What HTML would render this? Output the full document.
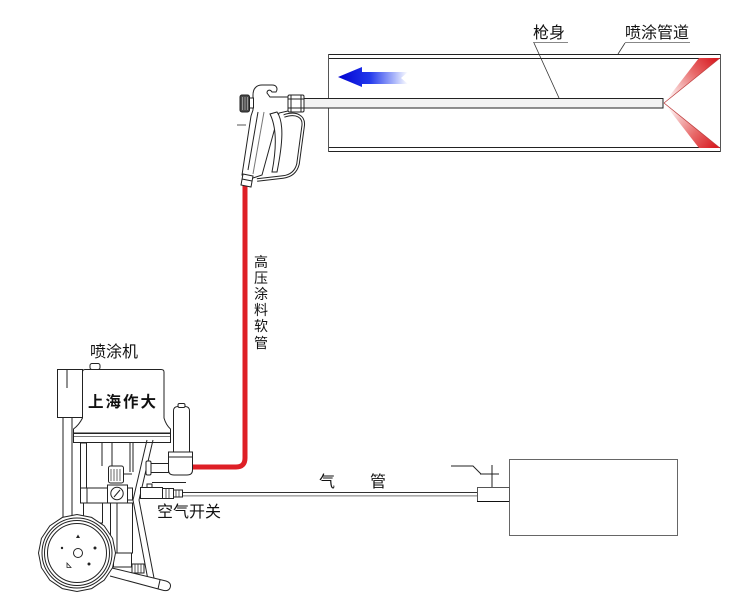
<!DOCTYPE html>
<html><head><meta charset="utf-8"><style>
html,body{margin:0;padding:0;background:#fff;}
svg{display:block;}
text{font-family:"Liberation Sans","Noto Sans CJK SC",sans-serif;fill:#111;}
</style></head><body>
<svg width="744" height="605" viewBox="0 0 744 605" xmlns="http://www.w3.org/2000/svg">
<defs>
<linearGradient id="blu" x1="338" y1="0" x2="408" y2="0" gradientUnits="userSpaceOnUse">
<stop offset="0" stop-color="#0000d0"/><stop offset="0.45" stop-color="#2238ec"/><stop offset="0.8" stop-color="#a8b4fa"/><stop offset="1" stop-color="#ffffff"/>
</linearGradient>
<linearGradient id="redU" x1="668" y1="100" x2="716" y2="60" gradientUnits="userSpaceOnUse">
<stop offset="0" stop-color="#ffffff"/><stop offset="0.6" stop-color="#e86a6a"/><stop offset="1" stop-color="#d81e24"/>
</linearGradient>
<linearGradient id="redD" x1="668" y1="106" x2="716" y2="146" gradientUnits="userSpaceOnUse">
<stop offset="0" stop-color="#ffffff"/><stop offset="0.6" stop-color="#e86a6a"/><stop offset="1" stop-color="#d81e24"/>
</linearGradient>
</defs>

<!-- Duct -->
<g stroke="#222" stroke-width="1" fill="none">
<line x1="328" y1="54.5" x2="720" y2="54.5"/>
<line x1="328" y1="58.5" x2="720" y2="58.5"/>
<line x1="328" y1="147.5" x2="720" y2="147.5"/>
<line x1="328" y1="151.5" x2="720" y2="151.5"/>
<line x1="328.5" y1="54" x2="328.5" y2="152" stroke="#555"/>
<line x1="720.5" y1="54" x2="720.5" y2="152" stroke="#555"/>
</g>
<!-- red cones -->
<polygon points="664,103 699,58 720,58" fill="url(#redU)"/>
<polygon points="664,103 699,148 720,148" fill="url(#redD)"/>
<line x1="664" y1="103" x2="720" y2="58" stroke="#c04040" stroke-width="0.8"/>
<line x1="664" y1="103" x2="720" y2="148" stroke="#c04040" stroke-width="0.8"/>
<!-- blue arrow -->
<polygon points="338,77 362,67 362,72 408,72 401,78 408,84 362,84 362,87" fill="url(#blu)"/>

<!-- labels top -->
<text x="533" y="38" font-size="16">枪身</text>
<text x="625" y="38" font-size="16">喷涂管道</text>
<g stroke="#888" stroke-width="1">
<line x1="533" y1="42.5" x2="568" y2="42.5"/>
<line x1="625" y1="42.5" x2="690" y2="42.5"/>
</g>
<g stroke="#333" stroke-width="0.8">
<line x1="534" y1="43" x2="559" y2="98"/>
<line x1="625" y1="43" x2="618" y2="54"/>
</g>

<!-- barrel -->
<rect x="304" y="98.5" width="359" height="9.5" fill="#f2f2f2" stroke="#222" stroke-width="1"/>

<!-- red hose -->
<path d="M245,184 L245,458 Q245,467 236,467 L190,467" fill="none" stroke="#de1f26" stroke-width="5"/>

<!-- spray gun -->
<g stroke="#222" stroke-width="1" fill="#fff">
<path d="M284,116 C296,112 305,116 303,127 L298,164 C296,172 291,176 283,177 L257,180" fill="none" stroke="#222" stroke-width="3.5"/>
<path d="M284,116 C296,112 305,116 303,127 L298,164 C296,172 291,176 283,177 L257,180" fill="none" stroke="#fff" stroke-width="1.5"/>
<path d="M253,95 C253,88 257,85 262,85 L272,85 C277,85 278,89 276,92 L272,92 C270,89 267,90 267,93 L270,97 L288,97 L288,111 L279,113 L262,175 L253,178 L242,175 L251,116 L253,110 Z"/>
<path d="M258,112 L248,170" fill="none"/>
<path d="M264,112 L253,174" fill="none" stroke="#777"/>
<path d="M277,112 C284,122 283,142 277,172 L272,172 C277,146 276,126 270,114 Z"/>
<rect x="240" y="95" width="9.5" height="17" rx="2" fill="#4a4a4a"/>
<g stroke="#aaa" stroke-width="0.8"><line x1="242.5" y1="97" x2="242.5" y2="110"/><line x1="245" y1="97" x2="245" y2="110"/><line x1="247.5" y1="97" x2="247.5" y2="110"/></g>
<rect x="249.5" y="98" width="4" height="10"/>
<rect x="288" y="95" width="16" height="17" rx="1.5"/>
<line x1="291" y1="95" x2="291" y2="112"/>
<line x1="301" y1="95" x2="301" y2="112"/>
<line x1="288" y1="99" x2="304" y2="99"/>
<line x1="288" y1="108" x2="304" y2="108"/>
<polygon points="243,174 253,176 251,187 241,185"/>
<line x1="242" y1="179" x2="252" y2="181"/>
<line x1="237" y1="125" x2="246" y2="125" stroke="#555"/>
</g>

<!-- hose label -->
<g font-size="14" text-anchor="middle">
<text x="261" y="267">高</text>
<text x="261" y="283">压</text>
<text x="261" y="299">涂</text>
<text x="261" y="315">料</text>
<text x="261" y="331">软</text>
<text x="261" y="348">管</text>
</g>

<!-- air line -->
<line x1="180" y1="492.5" x2="477" y2="492.5" stroke="#333" stroke-width="1"/>
<line x1="180" y1="495.8" x2="477" y2="495.8" stroke="#aaa" stroke-width="1.6"/>
<text x="319" y="487" font-size="16">气</text>
<text x="370" y="487" font-size="16">管</text>

<!-- box -->
<rect x="509.5" y="459.5" width="168" height="76" fill="#fff" stroke="#666" stroke-width="1"/>
<rect x="477.5" y="487.5" width="32" height="14" fill="#fff" stroke="#555" stroke-width="1"/>
<line x1="477" y1="501.5" x2="509" y2="501.5" stroke="#111"/>
<g stroke="#222" stroke-width="1" fill="none">
<polyline points="451,466 473,466 481,474"/>
<line x1="480" y1="474" x2="499" y2="474"/>
<line x1="492" y1="465" x2="492" y2="487"/>
</g>

<!-- machine -->
<text x="90" y="357" font-size="16">喷涂机</text>
<g stroke="#222" stroke-width="1" fill="#fff">
<rect x="63" y="406" width="9" height="115"/>
<line x1="63" y1="410" x2="72" y2="410"/>
<line x1="63" y1="414" x2="72" y2="414"/>
<rect x="57.5" y="369.5" width="25" height="48"/>
<line x1="67" y1="370" x2="67" y2="388"/>
<rect x="90" y="363.5" width="10" height="6" rx="2"/>
<path d="M82.5,418 L82.5,372 Q82.5,369.5 85,369.5 L161,369.5 Q164,369.5 164,372 L164,418 Q166,425 170.5,429 L170.5,433 L73.5,433 L73.5,429 Q79,425 82.5,418 Z"/>
<rect x="73.5" y="433.5" width="97" height="9"/>
<line x1="74" y1="436.5" x2="170" y2="436.5" stroke="#777"/>
<rect x="80.5" y="443" width="6" height="45"/>
<line x1="102" y1="443" x2="102" y2="466"/>
<line x1="112" y1="443" x2="112" y2="466"/>
<line x1="130" y1="443" x2="130" y2="472"/>
<line x1="133" y1="443" x2="133" y2="472"/>
<rect x="80.5" y="488" width="27" height="15"/>
<line x1="87" y1="488" x2="87" y2="503"/>
<rect x="83.5" y="503" width="19" height="20"/>
<rect x="108.5" y="466" width="15" height="17" rx="2"/>
<g stroke="#444" stroke-width="0.8"><line x1="111" y1="469" x2="111" y2="481"/><line x1="114" y1="469" x2="114" y2="481"/><line x1="117" y1="469" x2="117" y2="481"/><line x1="120" y1="469" x2="120" y2="481"/></g>
<line x1="124" y1="474" x2="132" y2="474"/>
<rect x="107.5" y="485" width="20" height="18"/>
<circle cx="117" cy="493.5" r="6.2"/>
<line x1="114" y1="497" x2="120" y2="490"/>
<rect x="127.5" y="488" width="5" height="12"/>
<rect x="110.5" y="503" width="22" height="50"/>
<line x1="117" y1="503" x2="117" y2="553"/>
<rect x="113.5" y="553" width="18" height="14"/>
<rect x="132" y="564" width="12" height="9"/>
<g stroke="#333" stroke-width="0.8"><line x1="135" y1="564" x2="135" y2="573"/><line x1="138" y1="564" x2="138" y2="573"/><line x1="141" y1="564" x2="141" y2="573"/></g>
<polyline points="147,440 133,500 148,580" fill="none"/>
<polyline points="153,440 139,500 154,578" fill="none"/>
<path d="M112,568 L166,581 Q172,583 170,588 Q168,592 162,590 L110,576" fill="#fff"/>
<line x1="160" y1="580" x2="158" y2="589"/>
<path d="M173.5,452 L173.5,411 Q173.5,406.5 178,406.5 L185,406.5 Q189.5,406.5 189.5,411 L189.5,452 Z"/>
<rect x="178" y="403.5" width="7" height="4" rx="1.5"/>
<path d="M168.5,452 L192.5,452 L192.5,470 Q192.5,475 187,475 L174,475 Q168.5,475 168.5,470 Z"/>
<line x1="169" y1="457" x2="192" y2="457"/>
<rect x="150" y="463.5" width="18.5" height="9"/>
<rect x="146" y="461" width="5" height="14" rx="1.5"/>
<line x1="152" y1="482.5" x2="186" y2="482.5"/>
<rect x="147" y="484" width="5" height="5"/>
<rect x="140.5" y="487.5" width="22" height="11"/>
<rect x="162.5" y="488.5" width="11" height="10"/>
<rect x="173.5" y="490" width="9" height="7"/>
<g stroke="#333" stroke-width="0.8"><line x1="166" y1="489" x2="166" y2="498"/><line x1="169" y1="489" x2="169" y2="498"/><line x1="176" y1="490" x2="176" y2="497"/><line x1="179" y1="490" x2="179" y2="497"/></g>
<polygon points="115.5,553 112.6,567.6 104.2,580.2 91.6,588.6 77,591.5 62.4,588.6 49.8,580.2 41.4,567.6 38.5,553 41.4,538.4 49.8,525.8 62.4,517.4 77,514.5 91.6,517.4 104.2,525.8 112.6,538.4"/>
<circle cx="77" cy="553" r="35"/>
<circle cx="77" cy="553" r="32.5"/>
<circle cx="77" cy="553" r="29.5"/>
<circle cx="78" cy="553" r="4.5"/>
</g>
<g fill="#222">
<polygon points="78,534.5 76,538 80,538"/>
<circle cx="62" cy="548" r="1.2"/>
<circle cx="95" cy="548" r="1.5"/>
<circle cx="89" cy="564" r="1.5"/>
</g>
<polygon points="67,563 67,567.5 71,567.5" fill="none" stroke="#222" stroke-width="0.8"/>
<text x="88" y="407" font-size="15.5" font-weight="bold" letter-spacing="2" style="font-family:'Noto Sans CJK SC','WenQuanYi Zen Hei',sans-serif">上海作大</text>

<text x="157" y="517" font-size="16">空气开关</text>
</svg>
</body></html>
